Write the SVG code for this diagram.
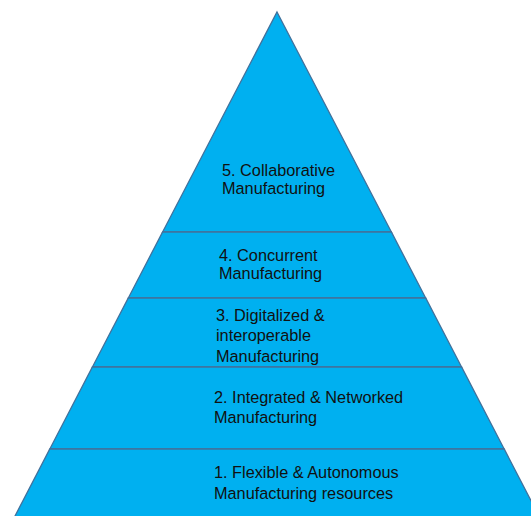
<svg xmlns="http://www.w3.org/2000/svg" width="531" height="516" viewBox="0 0 531 516">
<style>
.layer{fill:#00B0F0;stroke:#41719C;stroke-width:1.3;stroke-linejoin:miter}
.lbl{font-family:"Liberation Sans",Arial,sans-serif;font-size:16.3px;fill:#111}
</style>
<rect width="531" height="516" fill="#ffffff"/>
<g id="layer5">
<polygon class="layer" points="277,12 391.4,232 162.6,232"/>
<text class="lbl" x="222" y="176">5. Collaborative</text>
<text class="lbl" x="222" y="194">Manufacturing</text>
</g>
<g id="layer4">
<polygon class="layer" points="162.6,232 391.4,232 425.7,298 128.3,298"/>
<text class="lbl" x="219" y="261">4. Concurrent</text>
<text class="lbl" x="219" y="279">Manufacturing</text>
</g>
<g id="layer3">
<polygon class="layer" points="128.3,298 425.7,298 461.6,367 92.4,367"/>
<text class="lbl" x="216" y="320.5">3. Digitalized &amp;</text>
<text class="lbl" x="216" y="341">interoperable</text>
<text class="lbl" x="216" y="362">Manufacturing</text>
</g>
<g id="layer2">
<polygon class="layer" points="92.4,367 461.6,367 504.2,449 49.8,449"/>
<text class="lbl" x="214" y="402.5">2. Integrated &amp; Networked</text>
<text class="lbl" x="214" y="423">Manufacturing</text>
</g>
<g id="layer1">
<polygon class="layer" points="49.8,449 504.2,449 539.5,517 14.5,517"/>
<text class="lbl" x="214" y="478">1. Flexible &amp; Autonomous</text>
<text class="lbl" x="214" y="498.5">Manufacturing resources</text>
</g>
<g id="connectors"></g>
</svg>
